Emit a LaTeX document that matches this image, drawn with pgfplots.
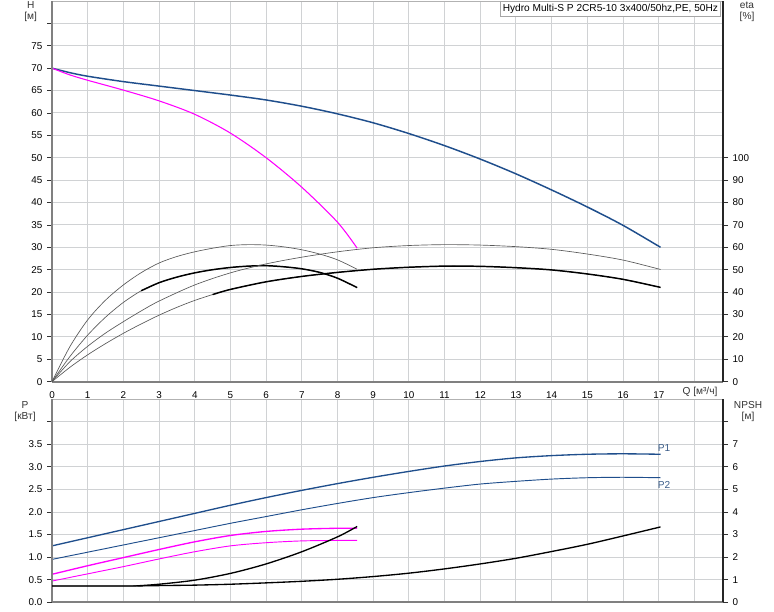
\documentclass[border=0pt]{standalone}
\usepackage{fontspec}
\setmainfont{Liberation Sans}
\usepackage{pgfplots}
\pgfplotsset{compat=1.18}
\definecolor{hblue}{RGB}{31,78,140}
\definecolor{gridc}{RGB}{208,210,212}
\definecolor{axgray}{RGB}{128,128,128}
\definecolor{mag}{RGB}{255,0,255}
\begin{document}
\begin{tikzpicture}
\pgfplotsset{
  base/.style={
    scale only axis, width=503.25pt,
    xmin=0, xmax=18.8, xtick={0,...,18},
    tick label style={font=\fontsize{7.4}{9}\selectfont},
    /pgf/number format/assume math mode=true,
    tick align=outside, major tick length=3.75pt,
    tick style={black!80, line width=0.6pt},
    axis line style={draw=gray!60, line width=0.5pt},
  },
  thickaxes/.style={
    after end axis/.code={
      \draw[axgray, line width=1.6pt] (rel axis cs:0,0) -- (rel axis cs:0,1);
      \draw[axgray, line width=1.4pt] (rel axis cs:0,0) -- (rel axis cs:1,0);
    }
  },
  right/.style={
    axis y line*=right, axis x line=none,
    y axis line style={-, draw=black!85, line width=1.3pt},
    yticklabel style={/pgf/number format/fixed},
  },
  thin/.style={black!65, line width=0.5pt, smooth},
  thick/.style={black, line width=1.1pt, smooth},
}
% ---------- top panel: H ----------
\begin{axis}[base, thickaxes, at={(39pt,-0.75pt)}, anchor=north west,
  height=285.5pt, ymin=0, ymax=85,
  ytick={0,5,...,80},
  yticklabels={0,5,10,15,20,25,30,35,40,45,50,55,60,65,70,75,{}},
  xticklabels={0,1,2,3,4,5,6,7,8,9,10,11,12,13,14,15,16,17,{}},
  xtick pos=bottom, ytick pos=left,
  x tick style={draw=none},
  xmajorgrids, ymajorgrids, grid style={gridc, line width=0.75pt},
]
\addplot[hblue, line width=1.1pt, smooth] coordinates {
  (0,70)(0.5,69.0)(1,68.2)(2,67.0)(3,66.0)(4,65.0)(5,64.0)(6,62.9)(7,61.5)(8,59.8)
  (9,57.8)(10,55.4)(11,52.7)(12,49.7)(13,46.4)(14,42.8)(15,39.0)(16,34.9)(17.05,30.0)};
\addplot[mag, line width=0.8pt, smooth] coordinates {
  (0,70)(0.5,68.5)(1,67.3)(2,65.1)(3,62.7)(4,59.7)(5,55.5)(6,50.0)(7,43.4)(8,35.6)(8.55,29.8)};
\node[draw=gray!70, fill=white, inner sep=2pt, anchor=north east,
  font=\fontsize{7.6}{9}\selectfont] at (axis cs:18.74,85) {Hydro Multi-S P 2CR5-10 3x400/50hz,PE, 50Hz};
\end{axis}
% ---------- top panel: eta ----------
\begin{axis}[base, right, at={(39pt,-0.75pt)}, anchor=north west,
  height=285.5pt, ymin=0, ymax=170, ytick={0,10,...,100}]
\addplot[thin] coordinates {
  (0,0)(0.5,15.6)(1,27.6)(1.5,36.4)(2,43.2)(2.5,48.7)(3,53.0)(3.5,55.9)(4,58.0)
  (4.5,59.6)(5,60.8)(5.5,61.2)(6,61.0)(6.5,60.2)(7,58.9)(7.5,57.0)(8,54.4)(8.55,50.2)};
\addplot[thin] coordinates {
  (0,0)(0.5,11.2)(1,20.8)(1.5,28.8)(2,35.4)(2.5,40.6)(3,44.2)(3.5,46.7)(4,48.6)
  (4.5,50.0)(5,51.0)(5.5,51.6)(6,51.8)(6.5,51.3)(7,50.4)(7.5,48.8)(8,46.2)(8.55,42)};
\addplot[thick] coordinates {
  (2.5,40.6)(3,44.2)(3.5,46.7)(4,48.6)(4.5,50.0)(5,51.0)(5.5,51.6)(6,51.8)(6.5,51.3)
  (7,50.4)(7.5,48.8)(8,46.2)(8.55,42)};
\addplot[thin] coordinates {
  (0,0)(0.5,8.9)(1,15.8)(1.5,21.7)(2,26.8)(2.5,31.6)(3,36.0)(4,43.2)(5,48.6)(6,52.6)
  (7,55.6)(8,58)(9,59.8)(10,60.8)(11,61.2)(12,61)(13,60.3)(14,59.1)(15,57)(16,54.3)(17.05,50.1)};
\addplot[thin] coordinates {
  (0,0)(0.5,6.4)(1,12.0)(1.5,17.0)(2,21.6)(2.5,25.8)(3,29.7)(3.5,33.2)(4,36.3)
  (4.5,38.9)(5,41.2)(6,44.6)(7,47.0)(8,48.8)(9,50.2)(10,51.1)(11,51.6)(12,51.5)(13,50.9)
  (14,49.9)(15,48.1)(16,45.7)(17.05,42.1)};
\addplot[thick] coordinates {
  (4.5,38.9)(5,41.2)(6,44.6)(7,47.0)(8,48.8)(9,50.2)(10,51.1)(11,51.6)(12,51.5)(13,50.9)
  (14,49.9)(15,48.1)(16,45.7)(17.05,42.1)};
\end{axis}
% ---------- bottom panel: P ----------
\begin{axis}[base, thickaxes, at={(39pt,-299.4pt)}, anchor=north west,
  height=152.3pt, ymin=0, ymax=4.5,
  ytick={0,0.5,...,4},
  yticklabels={0.0,0.5,1.0,1.5,2.0,2.5,3.0,3.5,{}},
  xticklabels={}, xtick pos=bottom, ytick pos=left,
  x tick style={draw=none},
  xmajorgrids, ymajorgrids, grid style={gridc, line width=0.75pt},
]
\addplot[hblue, line width=1.0pt, smooth] coordinates {
  (0,1.25)(1,1.43)(2,1.61)(3,1.79)(4,1.97)(5,2.15)(6,2.32)(7,2.48)(8,2.63)(9,2.77)
  (10,2.90)(11,3.02)(12,3.12)(13,3.20)(14,3.25)(15,3.28)(16,3.29)(17.05,3.28)};
\addplot[hblue, line width=0.7pt, smooth] coordinates {
  (0,0.95)(1,1.11)(2,1.27)(3,1.43)(4,1.59)(5,1.75)(6,1.90)(7,2.05)(8,2.19)(9,2.32)
  (10,2.43)(11,2.53)(12,2.62)(13,2.68)(14,2.73)(15,2.76)(16,2.77)(17.05,2.76)};
\addplot[mag, line width=1.0pt, smooth] coordinates {
  (0,0.62)(1,0.81)(2,0.99)(3,1.17)(4,1.34)(5,1.48)(6,1.57)(7,1.62)(8,1.64)(8.55,1.64)};
\addplot[mag, line width=0.7pt, smooth] coordinates {
  (0,0.47)(1,0.63)(2,0.79)(3,0.96)(4,1.12)(5,1.25)(6,1.32)(7,1.36)(8,1.37)(8.55,1.37)};
\node[text=hblue!70!gray, font=\fontsize{7.6}{9}\selectfont] at (axis cs:17.15,3.42) {P1};
\node[text=hblue!70!gray, font=\fontsize{7.6}{9}\selectfont] at (axis cs:17.15,2.60) {P2};
\end{axis}
% ---------- bottom panel: NPSH ----------
\begin{axis}[base, right, at={(39pt,-299.4pt)}, anchor=north west,
  height=152.3pt, ymin=0, ymax=9, ytick={0,...,8},
  yticklabels={0,1,2,3,4,5,6,7,{}}]
\addplot[black, line width=0.6pt, smooth] coordinates {(0,0.72)(1,0.72)(2,0.72)(2.4,0.73)};
\addplot[black, line width=1.0pt, smooth] coordinates {
  (2.4,0.73)(3,0.8)(4,0.98)(5,1.28)(6,1.7)(7,2.24)(8,2.9)(8.55,3.36)};
\addplot[black, line width=1.0pt, smooth] coordinates {
  (0,0.72)(2,0.72)(3,0.74)(4,0.76)(5,0.8)(6,0.86)(7,0.93)(8,1.02)(9,1.14)
  (10,1.29)(11,1.48)(12,1.7)(13,1.95)(14,2.25)(15,2.57)(16,2.94)(17.05,3.34)};
\end{axis}
% ---------- axis titles ----------
\begin{scope}[font=\fontsize{7.6}{9}\selectfont, text=black!80]
\node at (23pt,-3.75pt) {H};
\node at (23pt,-12.75pt) {[м]};
\node at (18.75pt,-303.75pt) {P};
\node at (18.75pt,-312.75pt) {[кВт]};
\node at (560.25pt,-3.75pt) {eta};
\node at (560.25pt,-12.75pt) {[\%]};
\node at (561pt,-303.75pt) {NPSH};
\node at (561pt,-312.75pt) {[м]};
\node at (525pt,-293.6pt) {Q [м³/ч]};
\end{scope}
\pgfresetboundingbox
\path[use as bounding box] (0,0) rectangle (580.5pt,-458.25pt);
\end{tikzpicture}
\end{document}
